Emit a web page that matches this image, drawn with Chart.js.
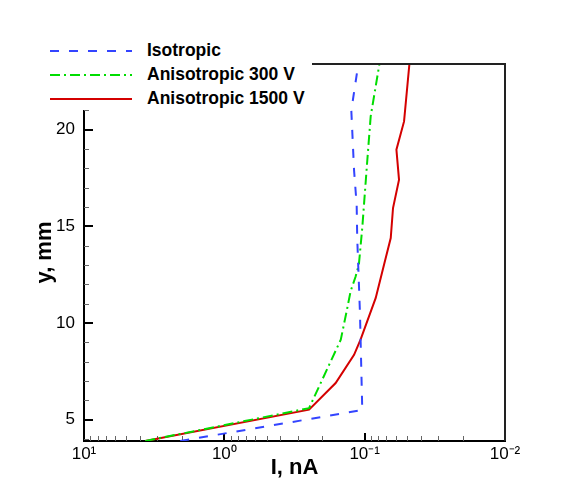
<!DOCTYPE html>
<html>
<head>
<meta charset="utf-8">
<script src="https://cdn.jsdelivr.net/npm/chart.js@4.4.0/dist/chart.umd.min.js"></script>
<style>
  html, body { margin: 0; padding: 0; background: #fff; }
  #wrap { position: relative; width: 568px; height: 489px; }
  #legend {
    position: absolute; left: 40px; top: 30px; width: 272px; height: 80px;
    background: #fff;
    font: bold 17.5px "Liberation Sans", Arial, sans-serif; color: #000;
  }
  .row { position: absolute; left: 0; height: 24px; line-height: 24px; white-space: nowrap; }
  .row svg { position: absolute; left: 10px; top: 0; }
  .row span { position: absolute; left: 107px; top: 0; }
</style>
</head>
<body>
<div id="wrap">
  <canvas id="myChart" width="568" height="489"></canvas>
  <div id="legend"></div>
</div>
<script>
// series: current I (nA) and position y (mm)
const isoI = [2.06, 0.104, 0.108, 0.113, 0.114, 0.119, 0.1245, 0.111];
const isoY = [3.9, 5.5, 10.5, 14.4, 16.1, 17.9, 21.0, 23.4];

const an300I = [3.66, 0.249, 0.148, 0.1345, 0.126, 0.116, 0.11, 0.104, 0.0957, 0.0906, 0.0785];
const an300Y = [3.9, 5.6, 9.14, 10.6, 11.64, 12.41, 13.02, 14.93, 18.45, 20.69, 23.4];

const an1500I = [3.66, 0.249, 0.161, 0.119, 0.107, 0.0834, 0.0728, 0.0652, 0.0628, 0.0569, 0.0594, 0.0524, 0.048];
const an1500Y = [3.9, 5.52, 6.9, 8.36, 9.14, 11.3, 13.02, 14.4, 15.95, 17.41, 18.97, 20.43, 23.4];

const seriesNames = ["Isotropic", "Anisotropic 300 V", "Anisotropic 1500 V"];

// axis ticks
const xMajorTicks = [10, 1, 0.1, 0.01];
const xTickLabels = ["10\u00B9", "10\u2070", "10\u207B\u00B9", "10\u207B\u00B2"];
const yMajorTicks = [5, 10, 15, 20];

const toPoints = (xs, ys) => xs.map((v, i) => ({ x: v, y: ys[i] }));

// minor ticks 2..9 in every decade, and every mm on y
const xMinorTicks = [];
[0.01, 0.1, 1].forEach((d) => {
  for (let m = 2; m <= 9; m++) xMinorTicks.push(m * d);
});
const yMinorTicks = [];
for (let v = 4; v <= 23; v++) if (v % 5 !== 0) yMinorTicks.push(v);

// tecplot style: ticks pointing into the plot
const innerTicks = {
  id: "innerTicks",
  beforeDatasetsDraw(chart) {
    const { ctx, chartArea: a, scales } = chart;
    const x = scales.x, y = scales.y;
    ctx.save();
    ctx.lineCap = "butt";
    ctx.strokeStyle = "#000";
    ctx.lineWidth = 2;
    xMajorTicks.forEach((v) => {
      const px = Math.round(x.getPixelForValue(v));
      ctx.beginPath(); ctx.moveTo(px, a.bottom); ctx.lineTo(px, a.bottom - 8); ctx.stroke();
    });
    yMajorTicks.forEach((v) => {
      const py = Math.round(y.getPixelForValue(v));
      ctx.beginPath(); ctx.moveTo(a.left, py); ctx.lineTo(a.left + 9, py); ctx.stroke();
    });
    ctx.strokeStyle = "#666";
    ctx.lineWidth = 1;
    xMinorTicks.forEach((v) => {
      const px = Math.round(x.getPixelForValue(v)) + 0.5;
      ctx.beginPath(); ctx.moveTo(px, a.bottom); ctx.lineTo(px, a.bottom - 5); ctx.stroke();
    });
    yMinorTicks.forEach((v) => {
      const py = Math.round(y.getPixelForValue(v)) + 0.5;
      ctx.beginPath(); ctx.moveTo(a.left, py); ctx.lineTo(a.left + 5, py); ctx.stroke();
    });
    ctx.restore();
  },
  afterDraw(chart) {
    const { ctx, chartArea: a } = chart;
    ctx.save();
    ctx.strokeStyle = "#222";
    ctx.lineWidth = 2;
    ctx.beginPath();
    ctx.moveTo(a.left, a.top);
    ctx.lineTo(a.right, a.top);
    ctx.lineTo(a.right, a.bottom);
    ctx.stroke();
    ctx.restore();
  },
};

const tickFont = { family: "'Liberation Sans', Arial, sans-serif", size: 17 };
const titleFont = { family: "'Liberation Sans', Arial, sans-serif", size: 22, weight: "bold" };

const ctx = document.getElementById("myChart").getContext("2d");
const myChart = new Chart(ctx, {
  type: "line",
  data: {
    datasets: [
      {
        label: seriesNames[0],
        data: toPoints(isoI, isoY),
        borderColor: "#3344ff",
        borderWidth: 2,
        borderDash: [9, 10],
        pointRadius: 0,
        fill: false,
      },
      {
        label: seriesNames[1],
        data: toPoints(an300I, an300Y),
        borderColor: "#00dd00",
        borderWidth: 2,
        borderDash: [10, 4, 2, 4],
        pointRadius: 0,
        fill: false,
      },
      {
        label: seriesNames[2],
        data: toPoints(an1500I, an1500Y),
        borderColor: "#d40000",
        borderWidth: 2,
        pointRadius: 0,
        fill: false,
      },
    ],
  },
  options: {
    responsive: false,
    animation: false,
    layout: { padding: { top: 64, right: 63, left: 0, bottom: 0 } },
    plugins: {
      legend: { display: false },
      tooltip: { enabled: false },
    },
    scales: {
      x: {
        type: "logarithmic",
        reverse: true,
        min: 0.01,
        max: 10,
        afterBuildTicks: (scale) => {
          scale.ticks = xMajorTicks.map((v) => ({ value: v }));
        },
        afterFit: (scale) => { scale.height = 48; },
        grid: { display: false, drawTicks: false },
        border: { display: true, color: "#000", width: 2 },
        ticks: {
          color: "#000",
          font: tickFont,
          padding: 3,
          maxRotation: 0,
          autoSkip: false,
          callback: (value) => xTickLabels[xMajorTicks.indexOf(value)],
        },
        title: {
          display: true,
          text: "I, nA",
          color: "#000",
          font: titleFont,
          padding: { top: 0, bottom: 8 },
        },
      },
      y: {
        type: "linear",
        min: 3.9,
        max: 23.4,
        afterBuildTicks: (scale) => {
          scale.ticks = yMajorTicks.map((v) => ({ value: v }));
        },
        afterFit: (scale) => { scale.width = 84; },
        grid: { display: false, drawTicks: false },
        border: { display: true, color: "#000", width: 2 },
        ticks: { color: "#000", font: tickFont, padding: 9 },
        title: {
          display: true,
          text: "y, mm",
          color: "#000",
          font: titleFont,
          padding: { top: 32, bottom: 0 },
        },
      },
    },
  },
  plugins: [innerTicks],
});

// html legend, drawn over the corner of the frame like the original
const legendEl = document.getElementById("legend");
const rowTops = [8, 32, 56];
myChart.data.datasets.forEach((ds, i) => {
  const row = document.createElement("div");
  row.className = "row";
  row.style.top = rowTops[i] + "px";
  const dash = ds.borderDash ? ds.borderDash.join(",") : "none";
  row.innerHTML =
    '<svg width="82" height="24"><line x1="0" y1="13" x2="82" y2="13" stroke="' +
    ds.borderColor + '" stroke-width="2" stroke-dasharray="' + dash + '"/></svg>' +
    "<span>" + ds.label + "</span>";
  legendEl.appendChild(row);
});
</script>
</body>
</html>
